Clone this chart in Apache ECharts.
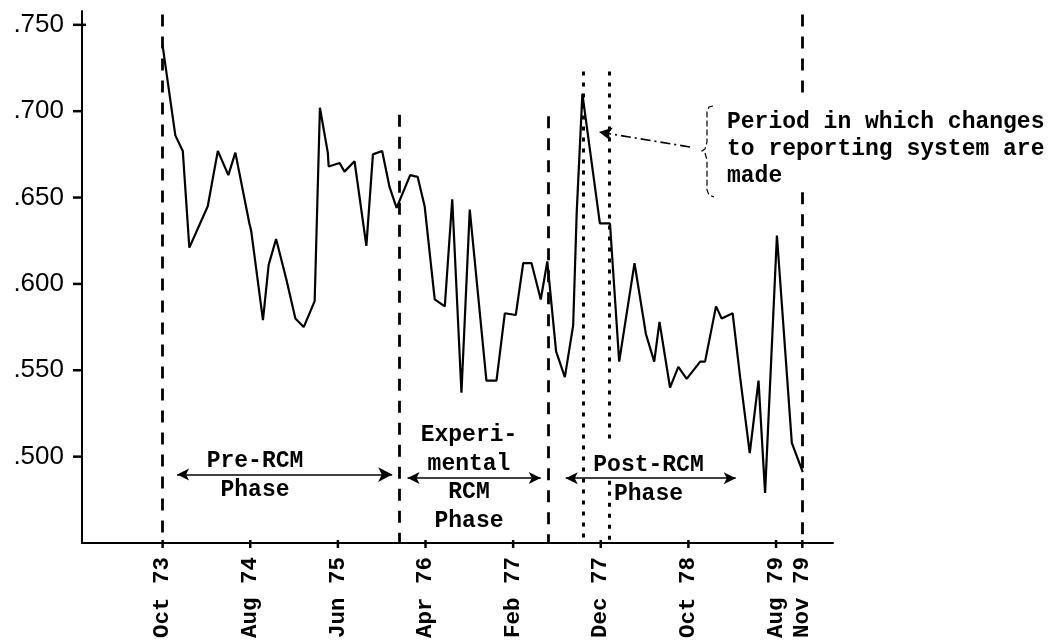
<!DOCTYPE html>
<html>
<head>
<meta charset="utf-8">
<script src="https://cdn.jsdelivr.net/npm/echarts@6/dist/echarts.min.js"></script>
<style>
  html, body { margin: 0; padding: 0; background: #fff; }
  #chart { width: 1053px; height: 644px; }
</style>
</head>
<body>
<div id="chart"></div>
<script>
// Months counted from Oct 1973 (= 0)
const months = [0, 1.45, 2.3, 3.05, 5.15, 6.3, 7.5, 8.3, 9.9, 10.1, 11.45, 12.1, 12.95, 14.15, 15.15, 16.1, 17.35, 17.95, 18.85, 18.95,
  20.2, 20.75, 21.9, 23.25, 24.0, 25.05, 25.9, 26.7, 28.25, 29.1, 29.9, 31.05, 32.2, 33.05, 34.1, 35.05, 36.95, 38.1, 39.05, 40.3,
  41.15, 42.1, 43.15, 43.9, 44.9, 45.9, 46.85, 47.25, 47.9, 49.9, 51.05, 52.1, 53.85, 55.15, 56.1, 56.7, 57.9, 58.85, 59.8, 61.35,
  61.9, 63.15, 63.8, 65.05, 65.9, 67.0, 68.0, 68.75, 70.1, 71.8, 73.05];
const values = [0.738, 0.686, 0.677, 0.621, 0.645, 0.677, 0.663, 0.676, 0.635, 0.631, 0.579, 0.611, 0.626, 0.602, 0.580, 0.575, 0.590, 0.702, 0.676, 0.668,
  0.670, 0.665, 0.671, 0.622, 0.675, 0.677, 0.656, 0.644, 0.663, 0.662, 0.645, 0.591, 0.587, 0.649, 0.537, 0.643, 0.544, 0.544, 0.583, 0.582,
  0.612, 0.612, 0.591, 0.613, 0.561, 0.546, 0.576, 0.641, 0.710, 0.635, 0.635, 0.555, 0.612, 0.571, 0.555, 0.578, 0.540, 0.552, 0.545, 0.555,
  0.555, 0.587, 0.580, 0.583, 0.546, 0.502, 0.544, 0.479, 0.628, 0.508, 0.491];

const tickMonths = [0, 10, 20, 30, 40, 50, 60, 70, 73];
const tickLabels = ['Oct 73', 'Aug 74', 'Jun 75', 'Apr 76', 'Feb 77', 'Dec 77', 'Oct 78', 'Aug 79', 'Nov 79'];
const yTicks = [0.5, 0.55, 0.6, 0.65, 0.7, 0.75];

// Phase boundaries (months)
const phaseBounds = [0, 27, 44, 73];
const changeBounds = [48, 51];
const phaseNames = ['Pre-RCM\nPhase', 'Experi-\nmental\nRCM\nPhase', 'Post-RCM\nPhase'];
const noteText = 'Period in which changes\nto reporting system are\nmade';

const X_MIN = -9.2, X_MAX = 76.5, Y_MIN = 0.45, Y_MAX = 0.758;

const MONO = '"Liberation Mono", "DejaVu Sans Mono", monospace';
const SANS = '"Liberation Sans", Arial, sans-serif';
const MONO_FONT = 'bold 23px ' + MONO;

const dashStyle = { color: '#000', width: 2.8, type: [12, 10] };
const dotStyle = { color: '#000', width: 3, type: [4, 7] };
const arrowStyle = { color: '#000', width: 1.6, type: 'solid' };

const marks = [
  [{ coord: [phaseBounds[0], 0.756], lineStyle: dashStyle }, { coord: [phaseBounds[0], Y_MIN] }],
  [{ coord: [phaseBounds[1], 0.698], lineStyle: dashStyle }, { coord: [phaseBounds[1], Y_MIN] }],
  [{ coord: [phaseBounds[2], 0.697], lineStyle: dashStyle }, { coord: [phaseBounds[2], Y_MIN] }],
  [{ coord: [phaseBounds[3], 0.756], lineStyle: dashStyle }, { coord: [phaseBounds[3], 0.707] }],
  [{ coord: [phaseBounds[3], 0.653], lineStyle: dashStyle }, { coord: [phaseBounds[3], Y_MIN] }],
  [{ coord: [changeBounds[0], 0.723], lineStyle: dotStyle }, { coord: [changeBounds[0], Y_MIN] }],
  [{ coord: [changeBounds[1], 0.723], lineStyle: dotStyle }, { coord: [changeBounds[1], 0.507] }],
  [{ coord: [changeBounds[1], 0.486], lineStyle: dotStyle }, { coord: [changeBounds[1], Y_MIN] }],
  // phase arrows
  [{ coord: [1.65, 0.4896], lineStyle: arrowStyle, symbol: 'arrow' }, { coord: [26.2, 0.4896], symbol: 'arrow', symbolSize: [11, 14] }],
  [{ coord: [27.95, 0.4877], lineStyle: arrowStyle, symbol: 'arrow' }, { coord: [43.15, 0.4877], symbol: 'arrow' }],
  [{ coord: [46.0, 0.4875], lineStyle: arrowStyle, symbol: 'arrow' }, { coord: [65.4, 0.4875], symbol: 'arrow' }],
  // note arrow
  [{ x: 690, y: 147, lineStyle: { color: '#000', width: 1.6, type: [10, 4, 2, 4] }, symbol: 'none' }, { x: 599, y: 132, symbol: 'arrow', symbolSize: [10, 13] }]
];

const baseGraphics = [
  { type: 'text', left: 205, top: 447, style: { text: phaseNames[0], font: MONO_FONT, fill: '#000', textAlign: 'center', lineHeight: 29, width: 100 } },
  { type: 'text', left: 419, top: 421, style: { text: phaseNames[1], font: MONO_FONT, fill: '#000', textAlign: 'center', lineHeight: 28.5, width: 100 } },
  { type: 'text', left: 591, top: 450, style: { text: phaseNames[2], font: MONO_FONT, fill: '#000', textAlign: 'center', lineHeight: 29.5, width: 115 } },
  { type: 'text', left: 727, top: 109, style: { text: noteText, font: MONO_FONT, fill: '#000', lineHeight: 27 } },
  { type: 'polyline', shape: { points: [[713,106],[709,107],[707,112],[707,142],[705,149],[702,151],[705,153],[707,160],[707,190],[709,195],[714,197]] },
    style: { fill: 'none', stroke: '#000', lineWidth: 1.2, lineDash: [6, 3] } }
];

const chart = echarts.init(document.getElementById('chart'));
chart.setOption({
  animation: false,
  backgroundColor: '#fff',
  grid: { left: 82, right: 220, top: 11, bottom: 101 },
  xAxis: {
    type: 'value', min: X_MIN, max: X_MAX,
    splitLine: { show: false },
    axisLine: { show: true, onZero: false, lineStyle: { color: '#000', width: 2 } },
    axisTick: { show: false },
    axisLabel: {
      customValues: tickMonths, rotate: 90, margin: 14,
      fontFamily: MONO, fontWeight: 'bold', fontSize: 22.5, color: '#000',
      formatter: v => tickLabels[tickMonths.indexOf(Math.round(v))] || ''
    }
  },
  yAxis: {
    type: 'value', min: Y_MIN, max: Y_MAX,
    splitLine: { show: false },
    axisLine: { show: true, onZero: false, lineStyle: { color: '#000', width: 2 } },
    axisTick: { show: false },
    axisLabel: {
      customValues: yTicks, margin: 18,
      fontFamily: SANS, fontSize: 26, color: '#000',
      formatter: v => v.toFixed(3).replace(/^0/, '')
    }
  },
  series: [{
    type: 'line',
    data: months.map((m, i) => [m, values[i]]),
    showSymbol: false,
    lineStyle: { color: '#000', width: 2.2 },
    markLine: {
      silent: true, animation: false,
      symbol: 'none', symbolSize: [9, 12],
      label: { show: false },
      data: marks
    }
  }],
  graphic: baseGraphics
});

// Axis tick marks placed through the chart's own scales
const tickGraphics = [];
tickMonths.forEach(m => {
  const p = chart.convertToPixel({ gridIndex: 0 }, [m, Y_MIN]);
  tickGraphics.push({ type: 'line', z: 100, shape: { x1: p[0], y1: p[1] - 3, x2: p[0], y2: p[1] + 5 },
    style: { stroke: '#000', lineWidth: 2.5 } });
});
yTicks.forEach(v => {
  const p = chart.convertToPixel({ gridIndex: 0 }, [X_MIN, v]);
  const right = v === 0.75 ? 4 : 0;
  tickGraphics.push({ type: 'line', z: 100, shape: { x1: p[0] - 9, y1: p[1], x2: p[0] + right, y2: p[1] },
    style: { stroke: '#000', lineWidth: 2.5 } });
});
chart.setOption({ graphic: baseGraphics.concat(tickGraphics) });
</script>
</body>
</html>
